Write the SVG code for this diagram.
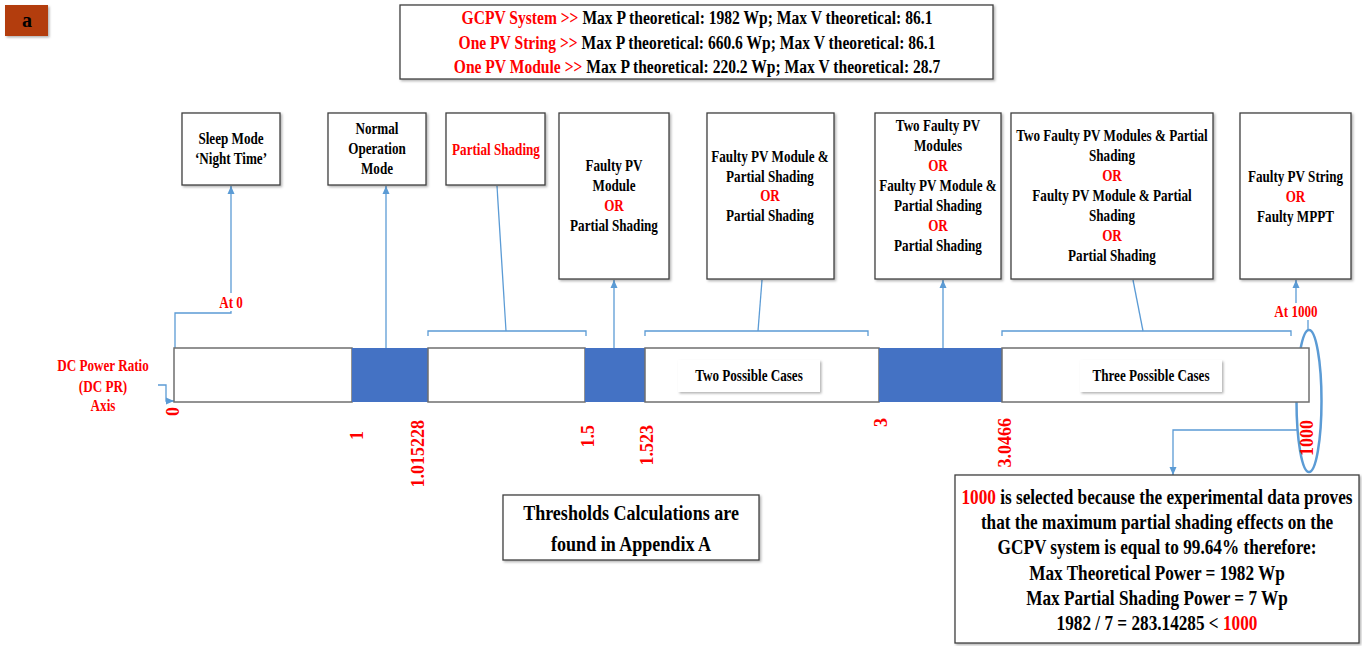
<svg xmlns="http://www.w3.org/2000/svg" width="1362" height="646" viewBox="0 0 1362 646">
<defs>
<style>
.t{font-family:"Liberation Serif","Times New Roman",serif;font-weight:bold;fill:#000;text-anchor:middle}
.r{fill:#FF0000}
.box{fill:#fff;stroke:#3F3F3F;stroke-width:1.3;filter:url(#sh)}
.cn{fill:none;stroke:#5B9BD5;stroke-width:1.3}
.seg{fill:#fff;stroke:#6F6F6F;stroke-width:1.5}
.blue{fill:#4472C4}
.n16{font-size:16px}
.lbl{font-family:"Liberation Serif","Times New Roman",serif;font-weight:bold;fill:#FF0000;font-size:18px;text-anchor:end}
</style>
<filter id="sh" x="-10%" y="-10%" width="130%" height="130%">
<feDropShadow dx="1.5" dy="1.5" stdDeviation="1.2" flood-color="#000" flood-opacity="0.3"/>
</filter>
<marker id="arr" markerWidth="8" markerHeight="8" refX="8" refY="4" orient="auto" markerUnits="userSpaceOnUse">
<path d="M0,0.5 L8,4 L0,7.5 z" fill="#5B9BD5"/>
</marker>
</defs>
<rect width="1362" height="646" fill="#fff"/>

<g id="tag">
<rect x="5" y="5" width="43" height="31" fill="#B33C0C" filter="url(#sh)"/>
<text class="t" x="27" y="27" font-size="20">a</text>
</g>

<g id="header">
<rect class="box" x="400" y="5" width="593" height="74"/>
<g transform="translate(697,0) scale(0.82,1)">
<text class="t" x="0" y="24" font-size="19"><tspan class="r">GCPV System &gt;&gt; </tspan>Max P theoretical: 1982 Wp; Max V theoretical: 86.1</text>
<text class="t" x="0" y="49" font-size="19"><tspan class="r">One PV String &gt;&gt; </tspan>Max P theoretical: 660.6 Wp; Max V theoretical: 86.1</text>
<text class="t" x="0" y="73" font-size="19"><tspan class="r">One PV Module &gt;&gt; </tspan>Max P theoretical: 220.2 Wp; Max V theoretical: 28.7</text>
</g>
</g>

<g id="connectors">
<path class="cn" d="M175,348 V313 H231 V311"/>
<path class="cn" d="M231,293 V186" marker-end="url(#arr)"/>
<path class="cn" d="M386,348 V186" marker-end="url(#arr)"/>
<path class="cn" d="M428,336 V331 H586 V336"/>
<path class="cn" d="M506,331 L497,186"/>
<path class="cn" d="M614,348 V280" marker-end="url(#arr)"/>
<path class="cn" d="M645,336 V331 H868 V336"/>
<path class="cn" d="M758,331 L762,280"/>
<path class="cn" d="M943,348 V280" marker-end="url(#arr)"/>
<path class="cn" d="M1002,336 V331 H1291 V336"/>
<path class="cn" d="M1143,331 L1133,280"/>
<path class="cn" d="M1296,303 V280" marker-end="url(#arr)"/>
<path class="cn" d="M1308,331 V320"/>
<path class="cn" d="M1297,430 H1173 V475" marker-end="url(#arr)"/>
<path class="cn" d="M158,385 H166 V401 H174" marker-end="url(#arr)"/>
<ellipse cx="1309" cy="401" rx="12.5" ry="71" fill="none" stroke="#5B9BD5" stroke-width="2.5"/>
</g>

<g id="axis">
<rect class="seg" x="174" y="348" width="178" height="54"/>
<rect class="blue" x="352" y="348" width="76" height="54"/>
<rect class="seg" x="428" y="348" width="157" height="54"/>
<rect class="blue" x="585" y="348" width="60" height="54"/>
<rect class="seg" x="645" y="348" width="234" height="54"/>
<rect class="blue" x="879" y="348" width="123" height="54"/>
<rect class="seg" x="1002" y="348" width="307" height="54"/>
<g transform="translate(103,0) scale(0.82,1)">
<text class="t r n16" x="0" y="371">DC Power Ratio</text>
<text class="t r n16" x="0" y="392">(DC PR)</text>
<text class="t r n16" x="0" y="411">Axis</text>
</g>
<text class="lbl" transform="translate(179,407) rotate(-90)">0</text>
<text class="lbl" transform="translate(363,431) rotate(-90)">1</text>
<text class="lbl" transform="translate(424,420) rotate(-90)">1.015228</text>
<text class="lbl" transform="translate(594,425) rotate(-90)">1.5</text>
<text class="lbl" transform="translate(653,425) rotate(-90)">1.523</text>
<text class="lbl" transform="translate(887,418) rotate(-90)">3</text>
<text class="lbl" transform="translate(1011,418) rotate(-90)">3.0466</text>
<text class="lbl" transform="translate(1313,420) rotate(-90)">1000</text>
<g transform="translate(231,0) scale(0.82,1)"><text class="t r n16" x="0" y="308">At 0</text></g>
<g transform="translate(1296,0) scale(0.82,1)"><text class="t r n16" x="0" y="317">At 1000</text></g>
</g>

<g id="two-cases">
<rect x="678" y="360" width="142" height="32" fill="#fff" filter="url(#sh)"/>
<g transform="translate(749,0) scale(0.82,1)"><text class="t n16" x="0" y="381">Two Possible Cases</text></g>
</g>
<g id="three-cases">
<rect x="1080" y="360" width="142" height="32" fill="#fff" filter="url(#sh)"/>
<g transform="translate(1151,0) scale(0.82,1)"><text class="t n16" x="0" y="381">Three Possible Cases</text></g>
</g>

<g id="sleep">
<rect class="box" x="182" y="113" width="98" height="72"/>
<g transform="translate(231,0) scale(0.82,1)">
<text class="t n16" x="0" y="144">Sleep Mode</text>
<text class="t n16" x="0" y="164">‘Night Time’</text>
</g>
</g>

<g id="normal">
<rect class="box" x="328" y="113" width="98" height="72"/>
<g transform="translate(377,0) scale(0.82,1)">
<text class="t n16" x="0" y="134">Normal</text>
<text class="t n16" x="0" y="154">Operation</text>
<text class="t n16" x="0" y="174">Mode</text>
</g>
</g>

<g id="partial">
<rect class="box" x="446" y="113" width="99" height="72"/>
<g transform="translate(496,0) scale(0.82,1)">
<text class="t r n16" x="0" y="155">Partial Shading</text>
</g>
</g>

<g id="faulty-module">
<rect class="box" x="559" y="113" width="110" height="166"/>
<g transform="translate(614,0) scale(0.82,1)">
<text class="t n16" x="0" y="171">Faulty PV</text>
<text class="t n16" x="0" y="191">Module</text>
<text class="t r n16" x="0" y="211">OR</text>
<text class="t n16" x="0" y="231">Partial Shading</text>
</g>
</g>

<g id="faulty-module-ps">
<rect class="box" x="707" y="113" width="127" height="166"/>
<g transform="translate(770,0) scale(0.82,1)">
<text class="t n16" x="0" y="162">Faulty PV Module &amp;</text>
<text class="t n16" x="0" y="182">Partial Shading</text>
<text class="t r n16" x="0" y="201">OR</text>
<text class="t n16" x="0" y="221">Partial Shading</text>
</g>
</g>

<g id="two-faulty">
<rect class="box" x="875" y="113" width="126" height="166"/>
<g transform="translate(938,0) scale(0.82,1)">
<text class="t n16" x="0" y="131">Two Faulty PV</text>
<text class="t n16" x="0" y="151">Modules</text>
<text class="t r n16" x="0" y="171">OR</text>
<text class="t n16" x="0" y="191">Faulty PV Module &amp;</text>
<text class="t n16" x="0" y="211">Partial Shading</text>
<text class="t r n16" x="0" y="231">OR</text>
<text class="t n16" x="0" y="251">Partial Shading</text>
</g>
</g>

<g id="two-faulty-ps">
<rect class="box" x="1011" y="113" width="202" height="166"/>
<g transform="translate(1112,0) scale(0.82,1)">
<text class="t n16" x="0" y="141">Two Faulty PV Modules &amp; Partial</text>
<text class="t n16" x="0" y="161">Shading</text>
<text class="t r n16" x="0" y="181">OR</text>
<text class="t n16" x="0" y="201">Faulty PV Module &amp; Partial</text>
<text class="t n16" x="0" y="221">Shading</text>
<text class="t r n16" x="0" y="241">OR</text>
<text class="t n16" x="0" y="261">Partial Shading</text>
</g>
</g>

<g id="faulty-string">
<rect class="box" x="1240" y="113" width="111" height="166"/>
<g transform="translate(1295.5,0) scale(0.82,1)">
<text class="t n16" x="0" y="182">Faulty PV String</text>
<text class="t r n16" x="0" y="202">OR</text>
<text class="t n16" x="0" y="222">Faulty MPPT</text>
</g>
</g>

<g id="thresholds">
<rect class="box" x="503" y="495" width="256" height="65"/>
<g transform="translate(631,0) scale(0.82,1)">
<text class="t" x="0" y="520" font-size="22">Thresholds Calculations are</text>
<text class="t" x="0" y="551" font-size="22">found in Appendix A</text>
</g>
</g>

<g id="explanation">
<rect class="box" x="955" y="475" width="404" height="168"/>
<g transform="translate(1157,0) scale(0.82,1)">
<text class="t" x="0" y="504" font-size="21"><tspan class="r">1000</tspan> is selected because the experimental data proves</text>
<text class="t" x="0" y="529" font-size="21">that the maximum partial shading effects on the</text>
<text class="t" x="0" y="554" font-size="21">GCPV system is equal to 99.64% therefore:</text>
<text class="t" x="0" y="580" font-size="21">Max Theoretical Power = 1982 Wp</text>
<text class="t" x="0" y="605" font-size="21">Max Partial Shading Power = 7 Wp</text>
<text class="t" x="0" y="630" font-size="21">1982 / 7 = 283.14285 &lt; <tspan class="r">1000</tspan></text>
</g>
</g>
</svg>
